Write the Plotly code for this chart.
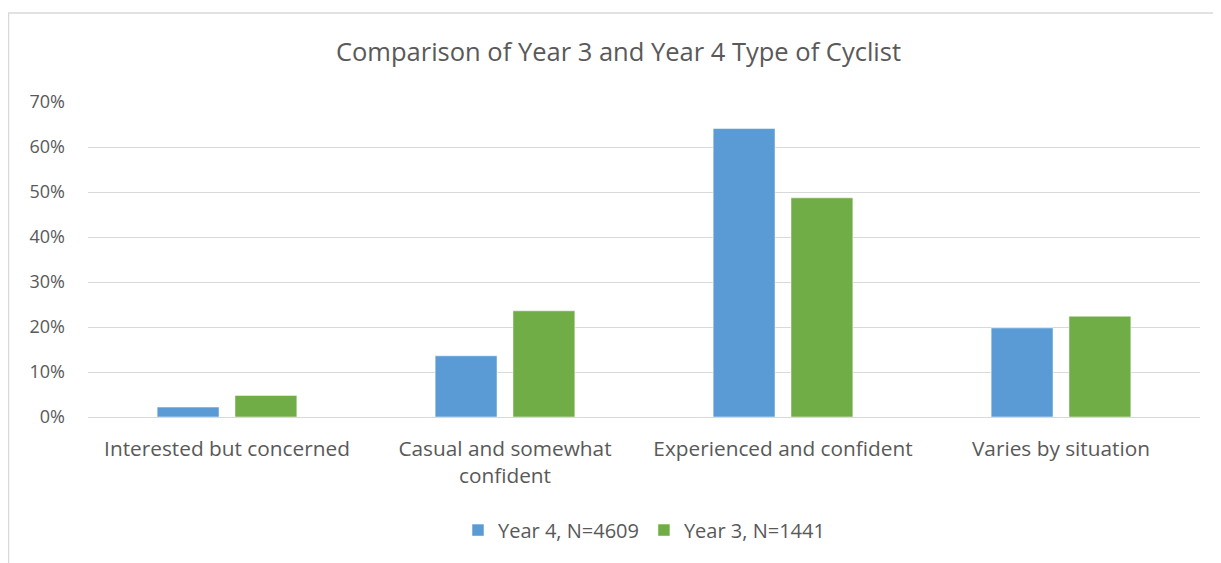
import plotly.graph_objects as go

# Cyclist type shares by survey year
categories = [
    "Interested but concerned",
    "Casual and somewhat<br>confident",
    "Experienced and confident",
    "Varies by situation",
]
year4_values = [0.022, 0.136, 0.641, 0.198]
year3_values = [0.048, 0.236, 0.487, 0.224]
series_names = ["Year 4, N=4609", "Year 3, N=1441"]
series_colors = ["#5B9BD5", "#70AD47"]

FONT = "Open Sans"
TEXT_COLOR = "#595959"

fig = go.Figure()
for name, vals, color in zip(series_names, [year4_values, year3_values], series_colors):
    fig.add_trace(go.Bar(
        x=categories,
        y=vals,
        name=name,
        marker=dict(color=color, line=dict(color="rgba(255,255,255,0.5)", width=1)),
    ))

# page body adds an 8px offset, margins compensate for it
fig.update_layout(
    width=1221,
    height=563,
    paper_bgcolor="white",
    plot_bgcolor="white",
    margin=dict(l=80, r=29, t=94, b=154),
    barmode="group",
    bargap=0.44,
    bargroupgap=0.205,
    font=dict(family=FONT, size=20, color=TEXT_COLOR),
    title=dict(
        text="Comparison of Year 3 and Year 4 Type of Cyclist",
        x=0.5, xanchor="center",
        y=1 - 44 / 563, yref="container", yanchor="middle",
        font=dict(family=FONT, size=25.5, color=TEXT_COLOR),
    ),
    legend=dict(
        orientation="h",
        x=0.5, xanchor="center",
        y=-0.359, yanchor="middle",
        font=dict(family=FONT, size=20, color=TEXT_COLOR),
    ),
    showlegend=True,
)

fig.update_yaxes(
    range=[0, 0.7],
    dtick=0.1,
    tickformat=".0%",
    tickfont=dict(size=18),
    showgrid=True,
    gridcolor="#D9D9D9",
    gridwidth=1,
    zeroline=False,
    showline=False,
    ticks="",
    ticklabelstandoff=22,
)
fig.update_xaxes(
    showline=True,
    linecolor="#D9D9D9",
    linewidth=1,
    ticks="",
    tickfont=dict(size=20.8),
    ticklabelstandoff=13,
)

# outer chart border
fig.add_shape(
    type="rect", xref="paper", yref="paper",
    x0=-0.0715, x1=1.0126, y0=-0.6, y1=1.2825,
    line=dict(color="#D9D9D9", width=1.5),
    fillcolor="rgba(0,0,0,0)",
    layer="below",
)

fig.write_html("out.html")
